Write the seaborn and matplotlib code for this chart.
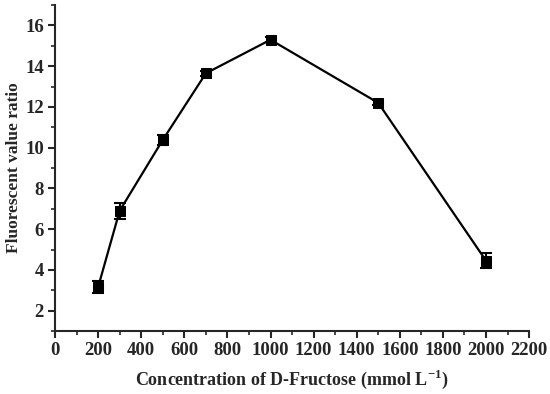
import numpy as np
import pandas as pd
import matplotlib
matplotlib.use("Agg")
import matplotlib.pyplot as plt
from matplotlib.ticker import MultipleLocator
import seaborn as sns

conc = [200, 300, 500, 700, 1000, 1500, 2000]
ratio = [3.15, 6.9, 10.38, 13.65, 15.3, 12.2, 4.45]
err = [0.3, 0.4, 0.25, 0.12, 0.12, 0.12, 0.38]

df = pd.DataFrame({"conc": conc, "ratio": ratio, "err": err})

sns.set_style("ticks")
plt.rcParams['font.family'] = ['Liberation Serif', 'DejaVu Serif']
plt.rcParams['font.weight'] = 'bold'
plt.rcParams['mathtext.fontset'] = 'custom'
plt.rcParams['mathtext.bf'] = 'Liberation Serif:bold'
plt.rcParams['mathtext.rm'] = 'Liberation Serif:bold'

fig = plt.figure(figsize=(5.5, 3.94), dpi=100)
ax = fig.add_axes([0.1, 0.16, 0.862, 0.827])

ax.errorbar(df["conc"], df["ratio"], yerr=df["err"], fmt='none', ecolor='black',
            elinewidth=1.5, capsize=4, capthick=1.5, zorder=2)
sns.lineplot(data=df, x="conc", y="ratio", marker='s', color='black', linewidth=1.6,
             markersize=7, markeredgecolor='black', ax=ax, zorder=3)

ax.set_xlim(0, 2200)
ax.set_ylim(1, 17)
ax.xaxis.set_major_locator(MultipleLocator(200))
ax.xaxis.set_minor_locator(MultipleLocator(100))
ax.yaxis.set_major_locator(MultipleLocator(2))
ax.yaxis.set_minor_locator(MultipleLocator(1))
ax.set_yticks(np.arange(2, 17, 2))
ax.tick_params(which='major', direction='out', length=5, width=1.5, labelsize=13.5, pad=3)
ax.tick_params(which='minor', direction='out', length=3, width=1.2)
for lab in ax.get_xticklabels() + ax.get_yticklabels():
    lab.set_fontweight('bold')

for s in ['top', 'right']:
    ax.spines[s].set_visible(False)
for s in ['left', 'bottom']:
    ax.spines[s].set_linewidth(1.5)

ax.set_xlabel(r"Concentration of D-Fructose (mmol L$^{\mathbf{-1}}$)", fontsize=13, fontweight='bold', labelpad=6)
ax.set_ylabel("Fluorescent value ratio", fontsize=12.5, fontweight='bold', labelpad=2)

fig.savefig("out.png", dpi=100)
